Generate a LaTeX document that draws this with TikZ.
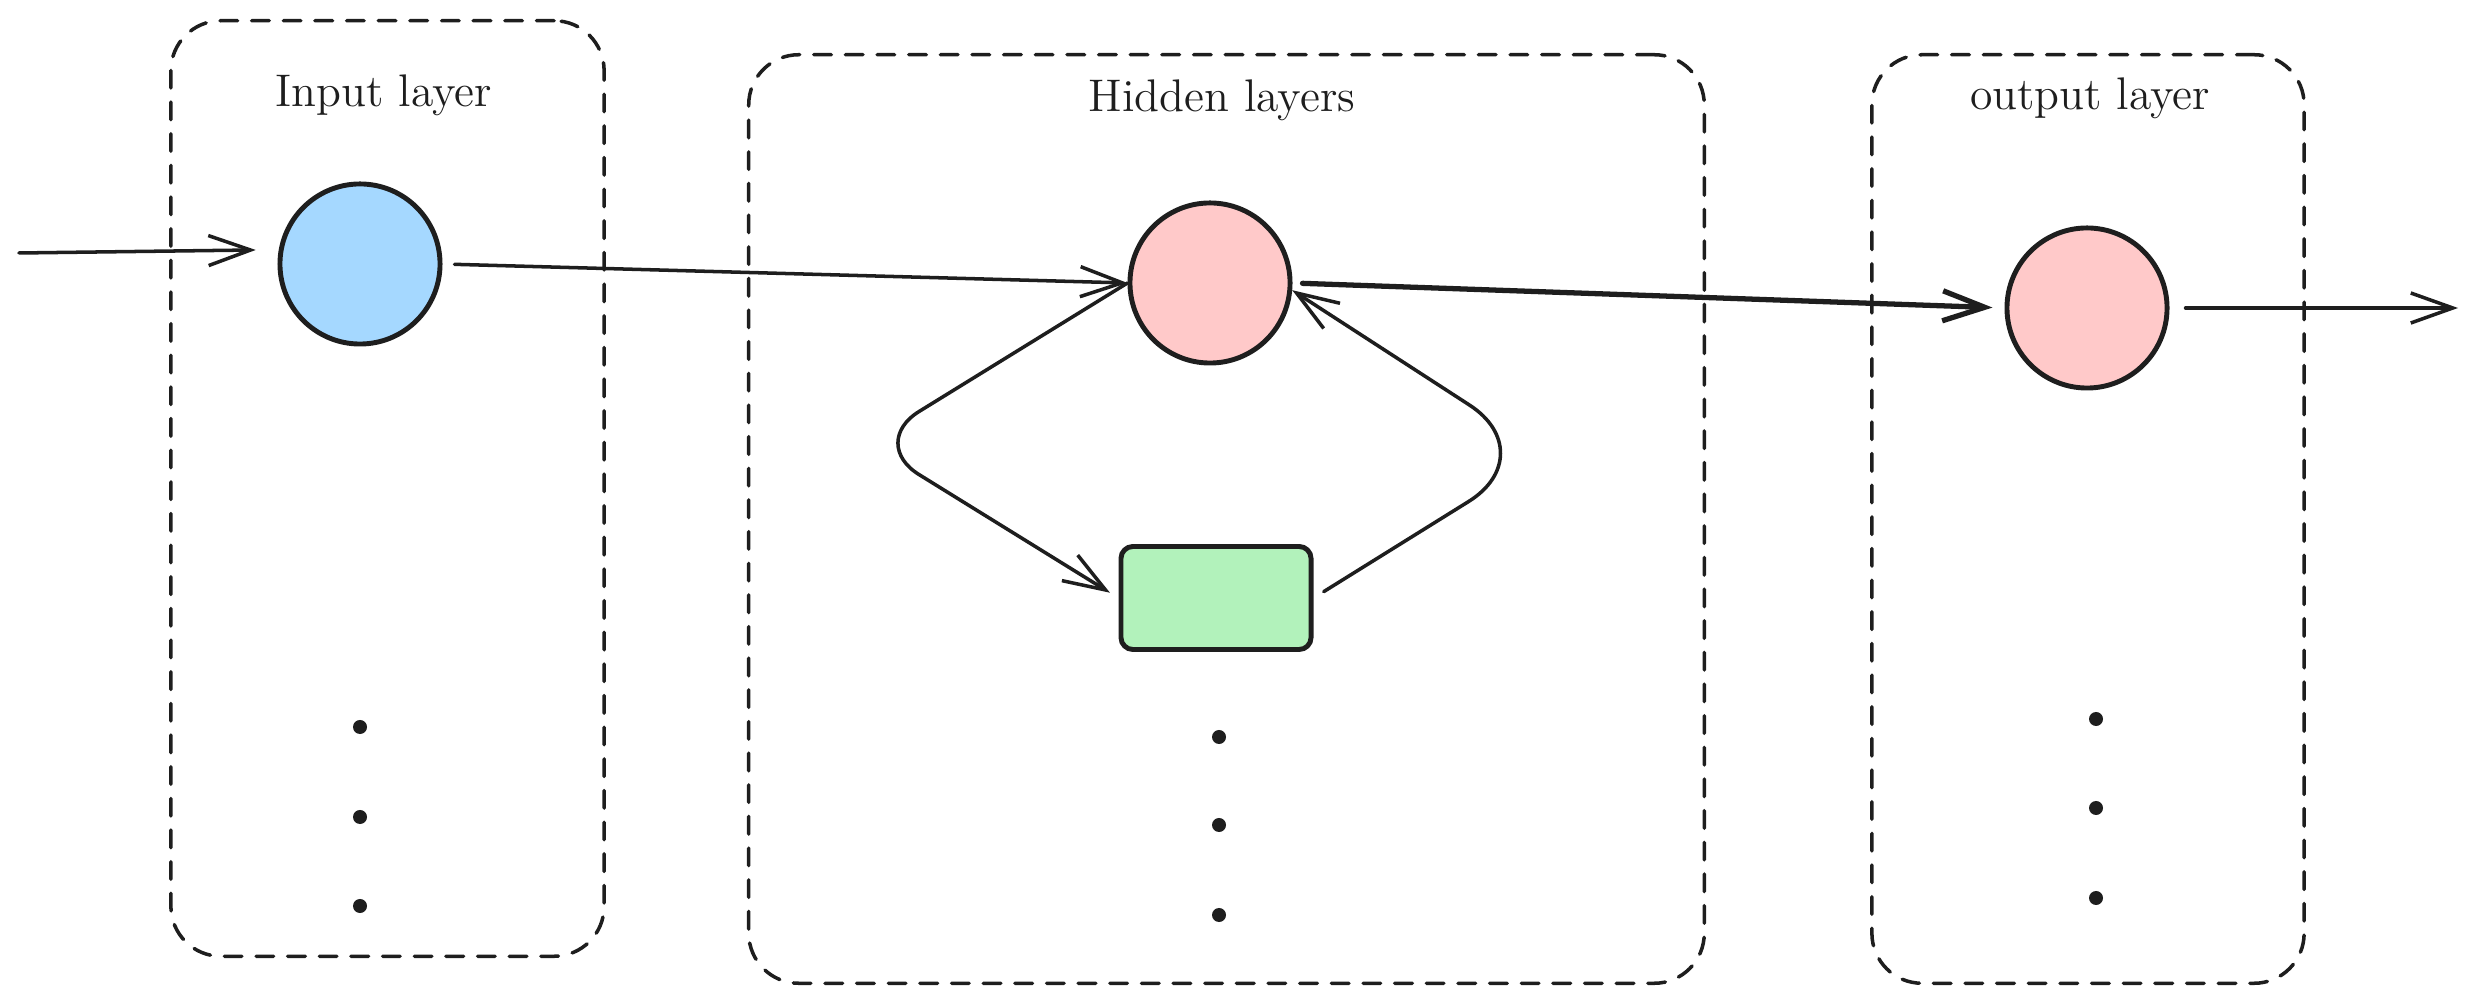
\documentclass[tikz,border=0pt]{standalone}
\usetikzlibrary{arrows.meta}
\definecolor{inkblack}{HTML}{1E1E1E}
\definecolor{inputblue}{HTML}{A5D8FF}
\definecolor{hiddenred}{HTML}{FFC9C9}
\definecolor{memgreen}{HTML}{B2F2BB}
\begin{document}
\begin{tikzpicture}[line cap=round,line join=round,>={Straight Barb[length=4.2mm,width=3mm]},x=0.01cm,y=-0.01cm,
	layerbox/.style={draw=inkblack,line width=1pt,dash pattern=on 5pt off 4pt,rounded corners=0.5cm,inner sep=0pt},
	neuron/.style={circle,draw=inkblack,line width=1.4pt,minimum size=1.6cm,inner sep=0pt},
	memcell/.style={draw=inkblack,fill=memgreen,line width=1.4pt,rounded corners=0.12cm,minimum width=1.9cm,minimum height=1.03cm,inner sep=0pt},
	layertitle/.style={font=\fontsize{13}{15}\selectfont,text=inkblack},
	link/.style={->,draw=inkblack,line width=1pt}]
		\useasboundingbox (0,0) rectangle (2479,1004);
		% layers
		\node[layerbox,minimum width=4.33cm,minimum height=9.35cm] (inbox) at (387.5,488.5) {};
		\node[layerbox,minimum width=9.55cm,minimum height=9.28cm] (hidbox) at (1226.5,519) {};
		\node[layerbox,minimum width=4.32cm,minimum height=9.28cm] (outbox) at (2088,519) {};
		\node[layertitle] (intitle) at (384,95) {Input layer};
		\node[layertitle] (hidtitle) at (1222,100) {Hidden layers};
		\node[layertitle] (outtitle) at (2090,98) {output layer};
		% units
		\node[neuron,fill=inputblue] (inp) at (360,264) {};
		\node[neuron,fill=hiddenred] (hid) at (1210,283) {};
		\node[neuron,fill=hiddenred] (out) at (2087,308) {};
		\node[memcell] (mem) at (1216,598) {};
		% dots
		\foreach \y in {727,817,906} \fill[inkblack] (360,\y) circle (0.07cm);
		\foreach \y in {737,825,915} \fill[inkblack] (1219,\y) circle (0.07cm);
		\foreach \y in {719,808,898} \fill[inkblack] (2096,\y) circle (0.07cm);
		% connections
		\coordinate (src) at (19,253);
		\coordinate (sink) at (2458,308);
		\coordinate (lbend) at (868,443);
		\coordinate (rbend) at (1545,454);
		\draw[link,shorten >=0.23cm] (src) -- (inp.170);
		\draw[link,shorten <=0.12cm] (inp.east) -- (hid.west);
		\draw[link,line width=1.5pt,shorten <=0.1cm,shorten >=0.12cm] (hid.east) -- (out.west);
		\draw[link,shorten <=0.16cm] (out.east) -- (sink);
		\draw[link,rounded corners=0.6cm,shorten >=0.1cm] (hid.west) -- (lbend) -- (mem.west);
		\draw[link,rounded corners=0.9cm,shorten <=0.12cm] (mem.east) -- (rbend) -- (hid.355);
	\end{tikzpicture}
\end{document}
